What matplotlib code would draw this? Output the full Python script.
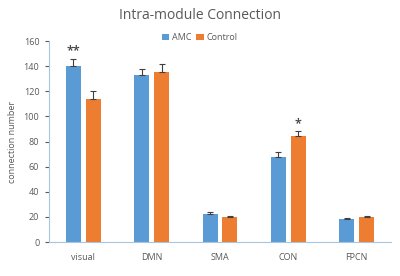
import matplotlib
matplotlib.use('Agg')
import matplotlib.pyplot as plt
import numpy as np

plt.rcParams['font.family'] = ['Open Sans', 'DejaVu Sans']

## Data
categories = ['visual', 'DMN', 'SMA', 'CON', 'FPCN']
amc = [140, 133, 22.5, 68, 18]
amc_err = [6, 5, 1.5, 4, 1.5]
control = [114, 135.5, 20, 84.5, 20]
control_err = [6.5, 6.5, 1, 4, 1]
amc_stars = ['**', '', '', '', '']
control_stars = ['', '', '', '*', '']

blue = '#5B9BD5'
orange = '#ED7D31'
txt = '#595959'
axc = '#A9C4E0'

fig = plt.figure(figsize=(4.0, 2.76), dpi=100)
ax = fig.add_axes([0.1225, 0.123, 0.855, 0.728])

x = np.arange(len(categories))
w = 0.22
off = 0.145
ax.bar(x - off, amc, w, color=blue, label='AMC', zorder=2)
ax.bar(x + off, control, w, color=orange, label='Control', zorder=2)
ax.errorbar(x - off, amc, yerr=[np.zeros(len(amc)), amc_err], fmt='none',
            ecolor='#404040', elinewidth=0.8, capsize=2.5, capthick=0.8, zorder=3)
ax.errorbar(x + off, control, yerr=[np.zeros(len(control)), control_err], fmt='none',
            ecolor='#404040', elinewidth=0.8, capsize=2.5, capthick=0.8, zorder=3)

# significance marks
for i in range(len(categories)):
    if amc_stars[i]:
        ax.text(x[i] - off, amc[i] + amc_err[i] + 1, amc_stars[i], ha='center', va='bottom',
                fontsize=9, color='#404040', fontweight='semibold')
    if control_stars[i]:
        ax.text(x[i] + off, control[i] + control_err[i] + 1, control_stars[i], ha='center',
                va='bottom', fontsize=9, color='#404040', fontweight='semibold')

ax.set_xlim(-0.5, len(categories) - 0.5)
ax.set_ylim(0, 160)
ax.set_yticks(np.arange(0, 161, 20))
ax.set_xticks(x)
ax.set_xticklabels(categories)
ax.tick_params(axis='x', length=0, labelsize=6.5, colors=txt, pad=8)
ax.tick_params(axis='y', length=3, labelsize=6.5, colors=txt, width=0.8, pad=4)
for t in ax.get_yticklines():
    t.set_color(axc)
for s in ['top', 'right']:
    ax.spines[s].set_visible(False)
ax.spines['left'].set_color(axc)
ax.spines['bottom'].set_color(axc)
ax.spines['left'].set_linewidth(0.8)
ax.spines['bottom'].set_linewidth(0.8)
ax.set_ylabel('connection number', fontsize=6.5, color=txt)
ax.yaxis.set_label_coords(-0.094, 0.5)

fig.suptitle('Intra-module Connection', x=0.5, y=0.97, fontsize=10, color=txt)
ax.legend(loc='upper center', bbox_to_anchor=(0.44, 1.08), ncol=2, frameon=False,
          fontsize=6.5, handlelength=0.8, handleheight=0.8, handletextpad=0.3,
          columnspacing=0.6, labelcolor=txt)

plt.savefig('out.png', dpi=100)
